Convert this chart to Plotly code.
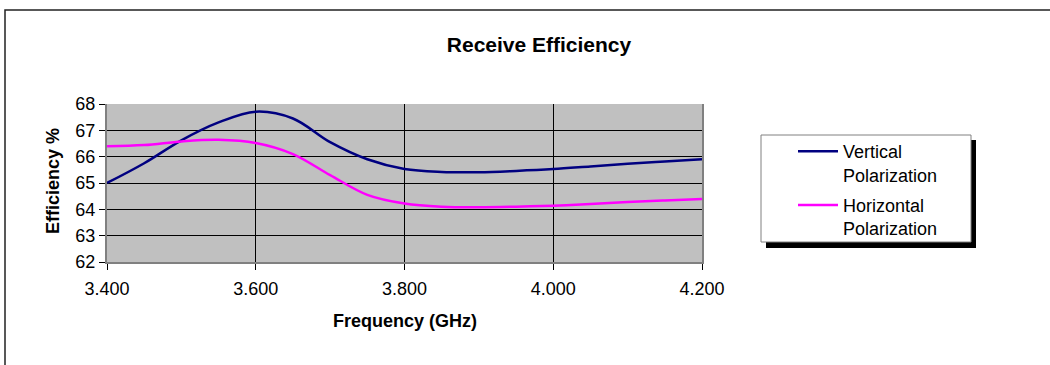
import plotly.graph_objects as go

# Frequency sweep (GHz) and measured receive efficiency (%)
freq_ghz = [3.40, 3.45, 3.50, 3.55, 3.60, 3.65, 3.70, 3.75, 3.80,
            3.85, 3.90, 3.95, 4.00, 4.05, 4.10, 4.15, 4.20]
vertical_eff = [65.00, 65.75, 66.62, 67.30, 67.71, 67.45, 66.55, 65.90, 65.53,
                65.42, 65.41, 65.46, 65.53, 65.63, 65.73, 65.82, 65.90]
horizontal_eff = [66.40, 66.44, 66.58, 66.64, 66.52, 66.10, 65.30, 64.55, 64.22,
                  64.10, 64.08, 64.10, 64.14, 64.20, 64.28, 64.34, 64.39]

x_ticks = [3.4, 3.6, 3.8, 4.0, 4.2]
x_tick_text = ["3.400", "3.600", "3.800", "4.000", "4.200"]
y_ticks = [62, 63, 64, 65, 66, 67, 68]

W, H = 1050, 365
L, R, T, B = 107, 702, 104, 262  # plot area in pixels
pw, ph = R - L, B - T


def px_x(px):
    return (px - L) / pw


def px_y(py):
    return (B - py) / ph


FONT = "Liberation Sans, Arial, sans-serif"

fig = go.Figure()
fig.add_trace(go.Scatter(
    x=freq_ghz, y=vertical_eff, mode="lines", name="Vertical<br>Polarization",
    line=dict(color="#000080", width=2.5, shape="spline", smoothing=1.0),
    legendgroup="v"))
fig.add_trace(go.Scatter(
    x=freq_ghz, y=horizontal_eff, mode="lines", name="Horizontal<br>Polarization",
    line=dict(color="#FF00FF", width=2.5, shape="spline", smoothing=1.0),
    legendgroup="h"))

shapes = [
    # outer chart border (left and top edges visible)
    dict(type="rect", xref="paper", yref="paper",
         x0=px_x(5), x1=px_x(1070), y0=px_y(385), y1=px_y(10),
         line=dict(color="#222222", width=1.5), fillcolor="rgba(0,0,0,0)",
         layer="above"),
    # legend shadow
    dict(type="rect", xref="paper", yref="paper",
         x0=px_x(766), x1=px_x(976), y0=px_y(248), y1=px_y(140),
         line=dict(width=0), fillcolor="black", layer="above"),
    # legend box
    dict(type="rect", xref="paper", yref="paper",
         x0=px_x(761), x1=px_x(971), y0=px_y(242), y1=px_y(135),
         line=dict(color="#808080", width=1), fillcolor="white", layer="above"),
]

annotations = [
    dict(text="<b>Frequency (GHz)</b>", xref="paper", yref="paper",
         x=px_x(404.5), y=px_y(321), xanchor="center", yanchor="middle",
         showarrow=False, font=dict(family=FONT, size=18, color="black")),
    dict(text="<b>Efficiency %</b>", xref="paper", yref="paper",
         x=px_x(53), y=px_y(181), xanchor="center", yanchor="middle",
         textangle=-90, showarrow=False,
         font=dict(family=FONT, size=18, color="black")),
]

axis_common = dict(
    showgrid=True, gridcolor="black", gridwidth=1,
    showline=True, linecolor="#808080", linewidth=2,
    ticks="outside", ticklen=6, tickcolor="black", tickwidth=1,
    tickfont=dict(family=FONT, size=18, color="black"),
    zeroline=False,
)

fig.update_layout(
    width=W, height=H,
    margin=dict(l=L, r=W - R, t=T, b=H - B, autoexpand=False),
    paper_bgcolor="white", plot_bgcolor="#C0C0C0",
    title=dict(text="<b>Receive Efficiency</b>", xref="container", yref="container",
               x=539 / W, y=1 - 45 / H, xanchor="center", yanchor="middle",
               font=dict(family=FONT, size=21, color="black")),
    xaxis=dict(range=[3.4, 4.2], tickvals=x_ticks, ticktext=x_tick_text,
               mirror=False, ticklabelstandoff=3, **axis_common),
    yaxis=dict(range=[62, 68], tickvals=y_ticks, mirror=True, **axis_common),
    legend=dict(x=px_x(793), y=px_y(133), xanchor="left", yanchor="top",
                bgcolor="rgba(0,0,0,0)", borderwidth=0, valign="top",
                tracegroupgap=4, itemwidth=40, maxheight=300,
                font=dict(family=FONT, size=18, color="black")),
    shapes=shapes, annotations=annotations,
    showlegend=True,
)

fig.write_html("out.html")
